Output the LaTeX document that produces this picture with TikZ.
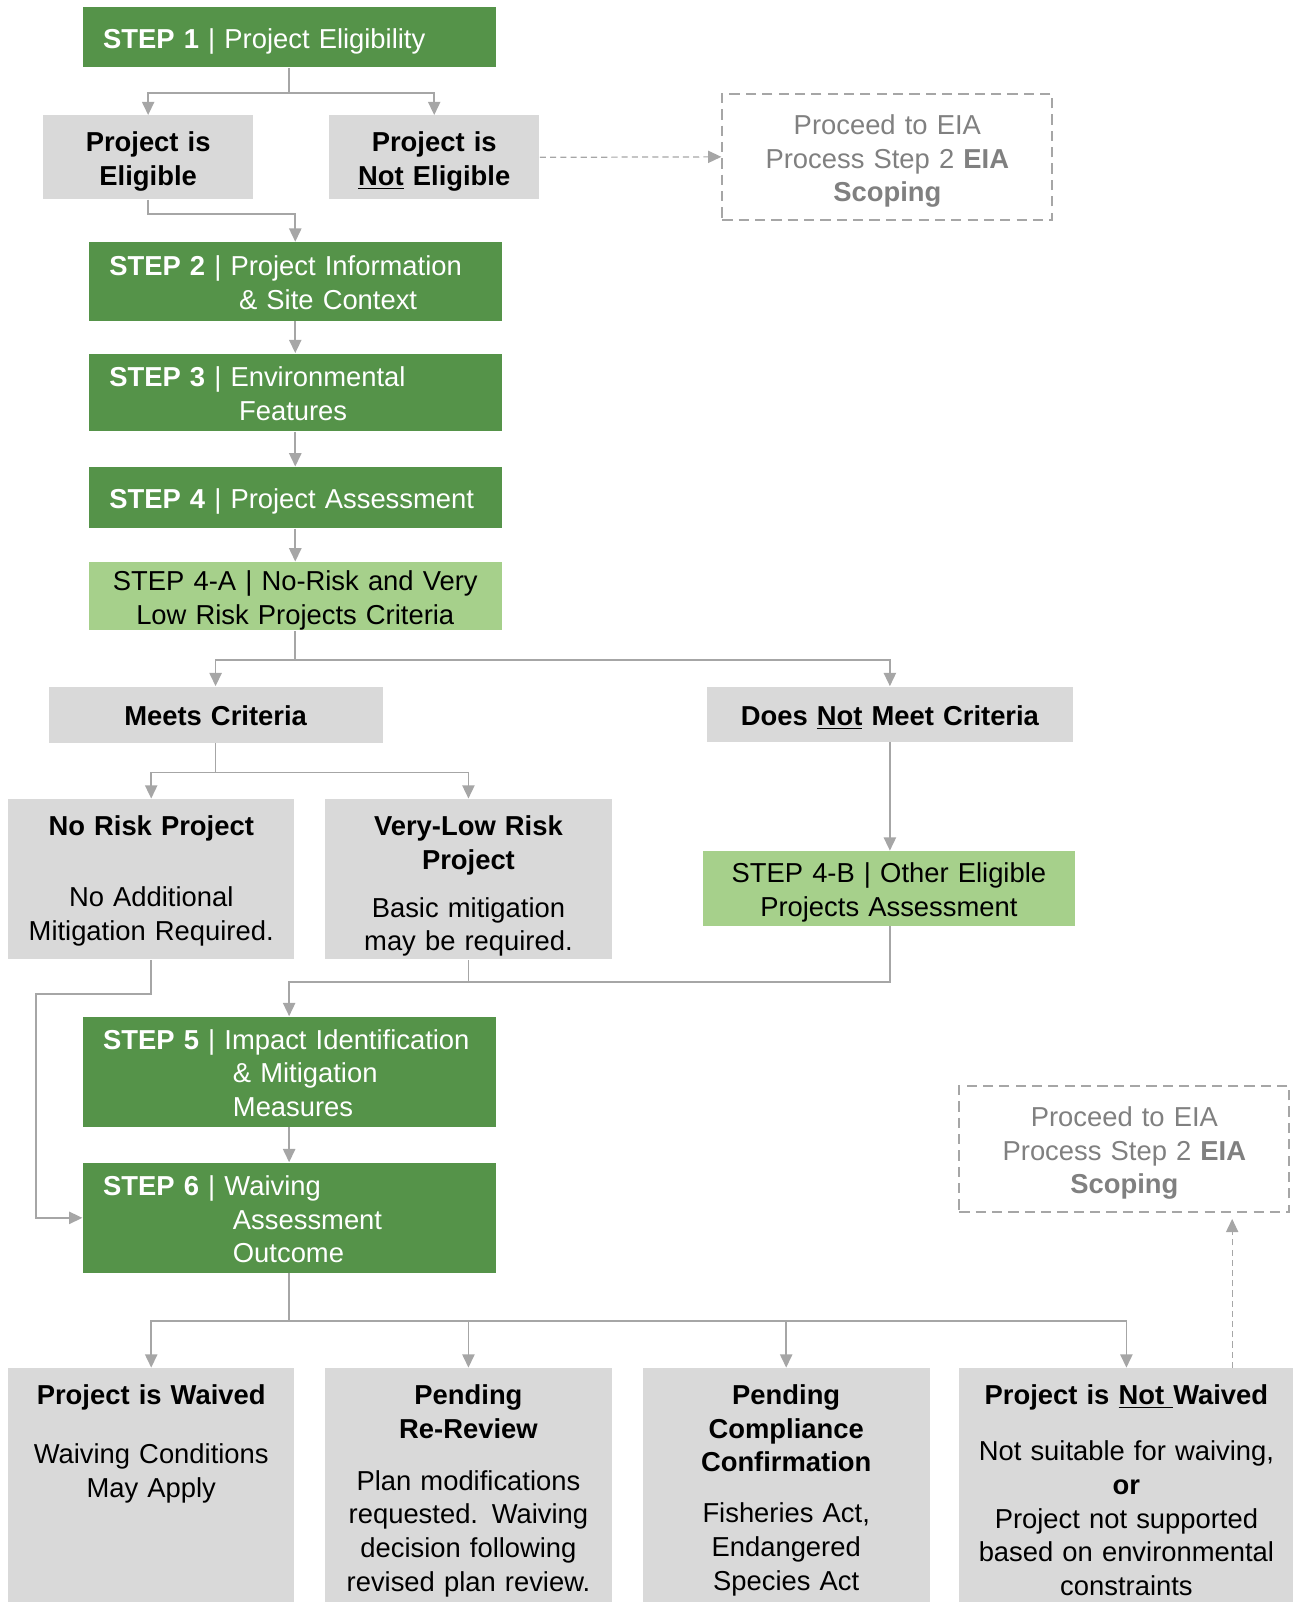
\documentclass[tikz,border=0pt]{standalone}
\usepackage{fontspec}
\setmainfont{Liberation Sans}
\usetikzlibrary{arrows.meta,positioning}

\definecolor{stepgreen}{HTML}{559349}
\definecolor{critgreen}{HTML}{A6D08B}
\definecolor{boxgray}{HTML}{D9D9D9}
\definecolor{linegray}{HTML}{A6A6A6}
\definecolor{eiagray}{HTML}{808080}

\newcommand{\diagfont}{\fontsize{13.4}{16.5}\selectfont}
\newcommand{\topstrut}{\rule{0pt}{13.9pt}}
\newcommand{\botstrut}{\rule[-2.9pt]{0pt}{2.9pt}}

\begin{document}
\begin{tikzpicture}[
    x=0.5pt, y=-0.5pt,
    every node/.style={font=\diagfont, execute at begin node=\topstrut, execute at end node=\botstrut},
    stepbox/.style={rectangle, fill=stepgreen, text=white, minimum width=202pt,
        text width=182pt, align=left, inner xsep=10pt, inner ysep=0pt},
    critbox/.style 2 args={rectangle, fill=critgreen, text=black, align=center, inner sep=0pt,
        minimum width=#1, text width=#1, minimum height=#2},
    graybox/.style 2 args={rectangle, fill=boxgray, inner sep=0pt, align=center,
        minimum width=#1, text width=#1, minimum height=#2},
    boldbox/.style 2 args={graybox={#1}{#2}, font=\diagfont\bfseries},
    boxtext/.style={anchor=north, align=center, inner sep=0pt, yshift=-3.9pt, text width=#1},
    eiabox/.style={rectangle, draw=linegray, line width=1pt, dash pattern=on 5pt off 3pt,
        minimum width=161.5pt, text width=161.5pt, minimum height=61.5pt, text=eiagray, align=center, inner sep=0pt},
    link/.style={draw=linegray, line width=0.8pt},
    conn/.style={link, -{Triangle[width=6pt,length=6.5pt]}},
    dconn/.style={conn, line width=0.6pt, dash pattern=on 3pt off 2pt}
]
    \useasboundingbox (0,0) rectangle (1266,1568);

    % Steps 1 to 4
    \node[stepbox, minimum height=29.5pt] (step1) at (283,36.5) {\textbf{STEP 1} | Project Eligibility};
    \node[boldbox={103pt}{41pt}] (elig) at (145,154) {Project is\\Eligible};
    \node[boldbox={103pt}{41pt}] (noelig) at (425,154) {Project is\\\underline{Not} Eligible};
    \node[eiabox] (eia1) at (868.5,153.5) {Proceed to EIA\\Process Step 2 \textbf{EIA}\\\textbf{Scoping}};
    \node[stepbox, minimum height=38.5pt] (step2) at (289,275.5)
        {\textbf{STEP 2} | Project Information\\\hspace*{63.5pt}\& Site Context};
    \node[stepbox, minimum height=38pt] (step3) at (289,384)
        {\textbf{STEP 3} | Environmental\\\hspace*{63.5pt}Features};
    \node[stepbox, minimum height=30pt] (step4) at (289,487) {\textbf{STEP 4} | Project Assessment};
    \node[critbox={202pt}{33.5pt}] (step4a) at (289,583.5)
        {STEP 4-A | No-Risk and Very\\Low Risk Projects Criteria};

    % Criteria branches
    \node[boldbox={163.5pt}{27.5pt}] (meets) at (211,699.5) {Meets Criteria};
    \node[boldbox={179.5pt}{27pt}] (notmeet) at (871,699) {Does \underline{Not} Meet Criteria};
    \node[graybox={140pt}{78.5pt}] (norisk) at (148,860.5) {};
    \node[boxtext=140pt] (norisktxt) at (norisk.north)
        {\textbf{No Risk Project}\\[18.5pt]No Additional\\Mitigation Required.};
    \node[graybox={140.5pt}{78.5pt}] (verylow) at (458.5,860.5) {};
    \node[boxtext=140.5pt] (verylowtxt) at (verylow.north)
        {\textbf{Very-Low Risk}\\\textbf{Project}\\[7pt]Basic mitigation\\may be required.};
    \node[critbox={182pt}{36.5pt}] (step4b) at (870,869.5)
        {STEP 4-B | Other Eligible\\Projects Assessment};

    % Steps 5 and 6
    \node[stepbox, minimum height=54pt] (step5) at (283,1049)
        {\textbf{STEP 5} | Impact Identification\\\hspace*{63.5pt}\& Mitigation\\\hspace*{63.5pt}Measures};
    \node[stepbox, minimum height=54pt] (step6) at (283,1192)
        {\textbf{STEP 6} | Waiving\\\hspace*{63.5pt}Assessment\\\hspace*{63.5pt}Outcome};
    \node[eiabox] (eia2) at (1100.5,1124.5) {Proceed to EIA\\Process Step 2 \textbf{EIA}\\\textbf{Scoping}};

    % Outcomes
    \node[graybox={140pt}{114.5pt}] (waived) at (148,1453.5) {};
    \node[boxtext=140pt] (waivedtxt) at (waived.north)
        {\textbf{Project is Waived}\\[12.5pt]Waiving Conditions\\May Apply};
    \node[graybox={140.5pt}{114.5pt}] (rereview) at (458.5,1453.5) {};
    \node[boxtext=140.5pt] (rereviewtxt) at (rereview.north)
        {\textbf{Pending}\\\textbf{Re-Review}\\[9pt]Plan modifications\\requested. Waiving\\decision following\\revised plan review.};
    \node[graybox={140.5pt}{114.5pt}] (compliance) at (769.5,1453.5) {};
    \node[boxtext=140.5pt] (compliancetxt) at (compliance.north)
        {\textbf{Pending}\\\textbf{Compliance}\\\textbf{Confirmation}\\[8.5pt]Fisheries Act,\\Endangered\\Species Act};
    \node[graybox={163.5pt}{114.5pt}] (notwaived) at (1102.5,1453.5) {};
    \node[boxtext=163.5pt] (notwaivedtxt) at (notwaived.north)
        {\textbf{Project is \underline{Not }Waived}\\[11pt]Not suitable for waiving,\\\textbf{or}\\Project not supported\\based on environmental\\constraints};

    % Connectors
    \coordinate (b1) at (283,91);
    \draw[link] (step1.south) -- (b1);
    \draw[conn] (b1) -| (elig.north);
    \draw[conn] (b1) -| (noelig.north);
    \draw[dconn] (noelig.east) -- (eia1.west);
    \draw[conn] (elig.south) -- ++(0,14) -| (step2.north);
    \draw[conn] (step2.south) -- (step3.north);
    \draw[conn] (step3.south) -- (step4.north);
    \draw[conn] (step4.south) -- (step4a.north);

    \coordinate (b2) at (289,646);
    \draw[link] (step4a.south) -- (b2);
    \draw[conn] (b2) -| (meets.north);
    \draw[conn] (b2) -| (notmeet.north);
    \coordinate (b3) at (211,756);
    \draw[link] (meets.south) -- (b3);
    \draw[conn] (b3) -| (norisk.north);
    \draw[conn] (b3) -| (verylow.north);
    \draw[conn] (notmeet.south) -- (notmeet.south |- step4b.north);

    \coordinate (b4) at (283,961);
    \draw[conn] (step4b.south -| notmeet.south) |- (b4) -- (step5.north);
    \draw[link] (verylow.south) -- (verylow.south |- b4);
    \coordinate (b5) at (35,973);
    \draw[conn] (norisk.south) |- (b5) |- (step6.west);
    \draw[conn] (step5.south) -- (step6.north);

    \coordinate (b6) at (283,1293);
    \draw[link] (step6.south) -- (b6);
    \foreach \n in {waived, rereview, compliance, notwaived}
        \draw[conn] (b6) -| (\n.north);
    \coordinate (up) at (1206,1339);
    \draw[dconn, shorten >=3pt] (up) -- (up |- eia2.south);
\end{tikzpicture}
\end{document}
